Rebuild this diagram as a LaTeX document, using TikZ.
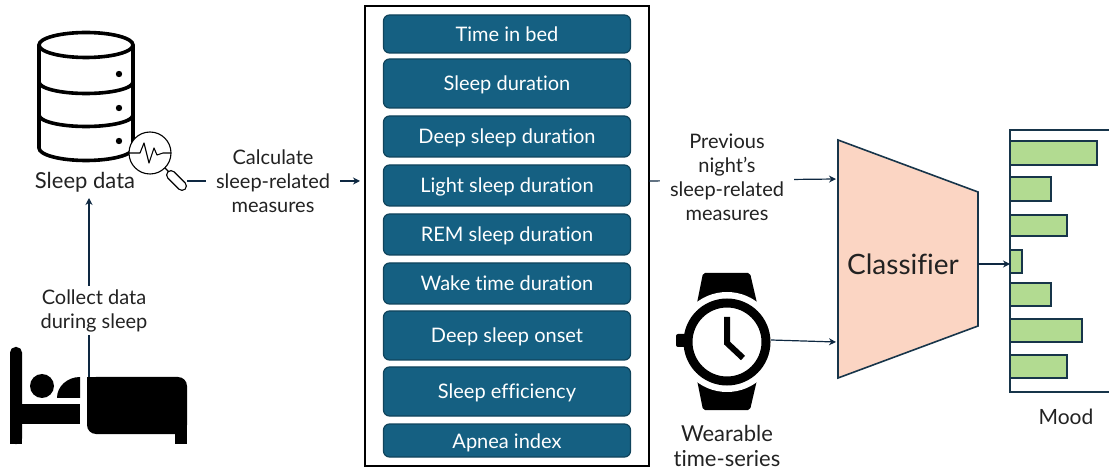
\documentclass[tikz,border=0pt]{standalone}
\usepackage{fontspec}
\setmainfont[Ligatures=NoCommon]{Lato}
\usetikzlibrary{arrows.meta}
\definecolor{navy}{HTML}{0E2841}
\definecolor{teal}{HTML}{156082}
\definecolor{tealb}{HTML}{10445C}
\definecolor{peach}{HTML}{FBD5C3}
\definecolor{barg}{HTML}{B2DB91}
\definecolor{barb}{HTML}{17354A}
\definecolor{ink}{HTML}{222222}
\newcommand{\fs}{\fontsize{20}{24}\selectfont}
\newcommand{\fl}{\fontsize{22}{25}\selectfont}
\tikzset{
 x=1pt,y=-1pt,
 lab/.style={font=\fs,text=ink,align=center,inner sep=0pt},
 gaplab/.style={lab,fill=white,inner xsep=10pt,inner ysep=3pt},
 conn/.style={draw=navy,line width=1.2pt,-{Stealth[length=7pt,width=7pt]}},
 measure/.style={draw=tealb,line width=1.2pt,fill=teal,rounded corners=6pt,minimum width=247pt,text=white,font=\fs,inner sep=0pt,anchor=center,text height=15pt,text depth=0pt},
 barbox/.style={draw=barb,line width=1.6pt,fill=barg},
 dbline/.style={line width=3.6pt,black,line cap=round},
}
\begin{document}
\begin{tikzpicture}
\useasboundingbox (0,0) rectangle (1109,470);
% measures
\node[draw=black,line width=1.4pt,minimum width=284pt,minimum height=460pt,inner sep=0pt] (box) at (507,236) {};
\foreach \n/\t/\b/\s in {m1/15/53/Time in bed,m2/59/108/Sleep duration,m3/116/157/Deep sleep duration,m4/165/206/Light sleep duration,m5/214/255/REM sleep duration,m6/263/304/Wake time duration,m7/311/360/Deep sleep onset,m8/367/416/Sleep efficiency,m9/424/457/Apnea index}{
 \pgfmathsetmacro{\yc}{(\t+\b)/2}
 \pgfmathsetmacro{\hh}{\b-\t}
 \node[measure,minimum height=\hh pt] (\n) at (507,\yc) {\s};
}
% database icon
\draw[dbline] (39,45) -- (39,148) arc[start angle=180,end angle=360,x radius=47,y radius=-12.5] -- (133,45);
\draw[dbline] (86,45) ellipse[x radius=47,y radius=12.5];
\draw[dbline] (39,82) arc[start angle=180,end angle=360,x radius=47,y radius=-11.5];
\draw[dbline] (39,115) arc[start angle=180,end angle=360,x radius=47,y radius=-11.5];
\foreach \yy in {74,108,141}{\fill[black] (119,\yy) circle[radius=3.2];}
% magnifier
\draw[line width=10pt,black,line cap=round] (171,175) -- (182,186);
\draw[line width=7.4pt,white,line cap=round] (171,175) -- (182,186);
\draw[black,line width=1.1pt,fill=white] (150,153) circle[radius=21];
\draw[black,line width=1.1pt] (165,168) -- (169,172);
\draw[black,line width=1.1pt,line join=round] (129,153) -- (140,153) -- (144,143) -- (149,163) -- (154,148) -- (157,155) -- (163,153) -- (171,153);
\node[lab,font=\fl] (sleepdata) at (85,182) {Sleep data};
% bed
\fill[black,rounded corners=5.5pt] (10,444) -- (10,347) -- (22,347) -- (22,444) -- cycle;
\fill[black] (10,430) rectangle (22,444);
\fill[black] (22,404) rectangle (80,424);
\fill[black] (42,386) circle[radius=12];
\fill[black] (57,398) arc[start angle=180,end angle=90,x radius=23,y radius=-21] -- (80,398) -- cycle;
\fill[black,rounded corners=9pt] (87,377) -- (187,377) -- (187,434) -- (87,434) -- cycle;
\fill[black] (87,377) rectangle (100,390);
\fill[black] (175,425) rectangle (187,444);
\coordinate (bedtop) at (89,377);
\coordinate (dbbottom) at (89,198);
\draw[conn] (bedtop) -- (dbbottom);
\node[gaplab] (collect) at (94,310.5) {Collect data\\during sleep};
% calculate
\coordinate (lens) at (187,181);
\coordinate (boxin) at (360,181);
\draw[conn] (lens) -- (boxin);
\node[gaplab] (calc) at (273,181.5) {Calculate\\sleep-related\\measures};
% classifier
\draw[draw=barb,line width=1.6pt,fill=peach] (838,140) -- (978,192) -- (978,326) -- (838,378) -- cycle;
\node[font=\fontsize{28}{32}\selectfont,text=ink,inner sep=0pt] (clf) at (903,264) {Classifier};
\coordinate (clfin1) at (836,179);
\coordinate (clfin2) at (836,342);
\coordinate (boxout) at (649,181);
\draw[conn] (boxout) -- (clfin1);
\node[gaplab] (prev) at (727,177) {Previous\\night’s\\sleep-related\\measures};
% watch
\fill[black,rounded corners=2pt] (703,273) -- (750,273) -- (757,303) -- (697,303) -- cycle;
\fill[black,rounded corners=2pt] (697,380) -- (757,380) -- (750,410) -- (703,410) -- cycle;
\fill[white] (727,342) circle[radius=50];
\fill[black,rounded corners=2pt] (676,334) rectangle (690,347);
\draw[black,line width=9pt,fill=white] (727,342) circle[radius=39];
\draw[black,line width=6pt,line join=miter] (727,317) -- (727,343) -- (743,358);
\coordinate (watchr) at (771,340);
\draw[conn] (watchr) -- (clfin2);
\node[lab,font=\fl] (wear) at (727,446) {Wearable\\time-series};
% mood chart
\draw[barb,line width=1.6pt] (1109,130) -- (1010,130) -- (1010,392) -- (1109,392);
\foreach \t/\b/\r in {141/165/1097,177/201/1051,215/236/1067,250/273/1022,283/306/1051,319/342/1082,355/378/1067}{
 \draw[barbox] (1010,\t) rectangle (\r,\b);
}
\coordinate (chart) at (1010,264);
\coordinate (clfout) at (978,264);
\draw[conn] (clfout) -- (chart);
\node[lab,font=\fontsize{21}{25}\selectfont] (mood) at (1066,417) {Mood};
\end{tikzpicture}
\end{document}
